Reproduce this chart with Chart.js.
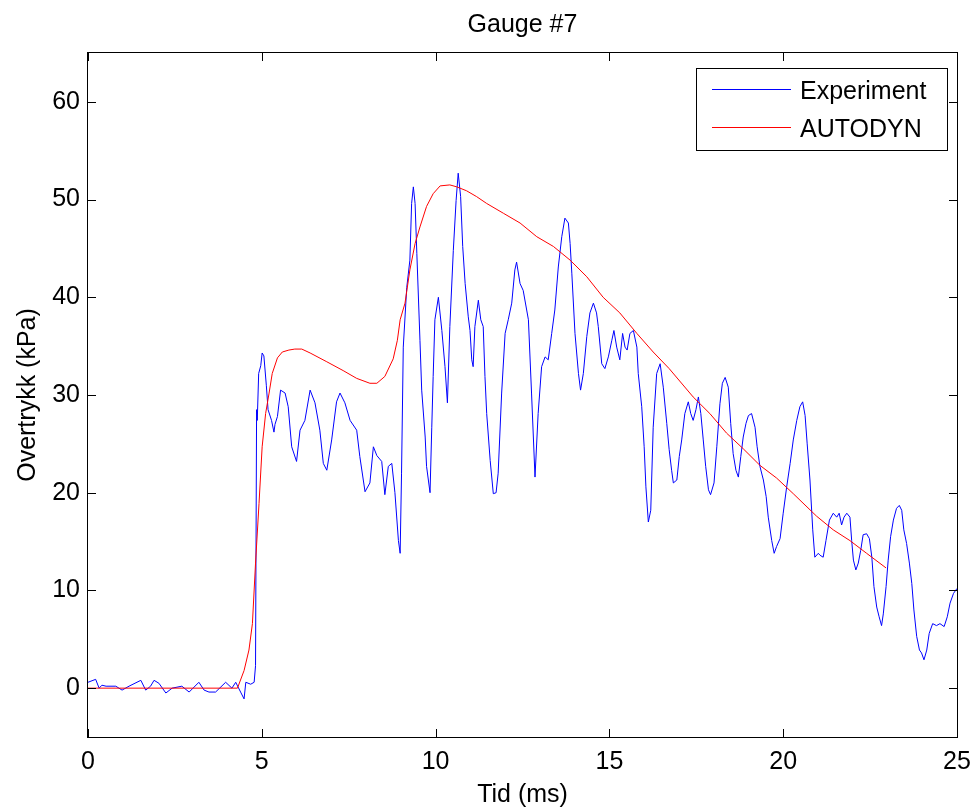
<!DOCTYPE html>
<html>
<head>
<meta charset="utf-8">
<title>Gauge #7</title>
<script src="https://cdn.jsdelivr.net/npm/chart.js@4.4.1/dist/chart.umd.min.js"></script>
<style>
  html, body { margin: 0; padding: 0; background: #fff; }
  canvas { display: block; }
</style>
</head>
<body>
<canvas id="gaugeChart" width="973" height="811"></canvas>
<script>
// Gauge #7 - measured overpressure vs AUTODYN simulation

const expTime = [
  0, 0.22, 0.32, 0.40, 0.52, 0.80, 0.98, 1.18, 1.52, 1.66, 1.80, 1.90, 2.04, 2.24, 2.42, 2.70,
  2.91, 3.19, 3.34, 3.48, 3.67, 3.96, 4.14, 4.25, 4.39, 4.49, 4.54, 4.68, 4.78, 4.82, 4.85, 4.87,
  4.91, 4.97, 5.01, 5.06, 5.13, 5.18, 5.28, 5.35, 5.38, 5.45, 5.54, 5.67, 5.76, 5.86, 6.00, 6.10,
  6.24, 6.39, 6.53, 6.67, 6.77, 6.87, 7.01, 7.15, 7.25, 7.39, 7.54, 7.73, 7.82, 7.97, 8.11, 8.21,
  8.31, 8.45, 8.54, 8.64, 8.74, 8.83, 8.93, 8.98, 9.02, 9.07, 9.17, 9.26, 9.31, 9.36, 9.41, 9.46,
  9.55, 9.60, 9.70, 9.74, 9.84, 9.89, 9.93, 9.98, 10.08, 10.18, 10.27, 10.34, 10.41, 10.51, 10.59, 10.65,
  10.72, 10.78, 10.85, 10.94, 10.99, 11.04, 11.08, 11.13, 11.23, 11.30, 11.37, 11.42, 11.47, 11.57, 11.66, 11.74,
  11.80, 11.90, 12.00, 12.09, 12.19, 12.28, 12.33, 12.43, 12.52, 12.67, 12.76, 12.86, 12.95, 13.05, 13.15, 13.24,
  13.34, 13.43, 13.53, 13.63, 13.72, 13.82, 13.87, 13.92, 14.01, 14.11, 14.17, 14.25, 14.35, 14.44, 14.54, 14.63,
  14.68, 14.78, 14.87, 14.97, 15.07, 15.13, 15.21, 15.30, 15.38, 15.45, 15.51, 15.59, 15.69, 15.79, 15.83, 15.93,
  16.00, 16.05, 16.12, 16.19, 16.26, 16.36, 16.46, 16.55, 16.65, 16.72, 16.79, 16.84, 16.94, 17.01, 17.08, 17.17,
  17.27, 17.34, 17.41, 17.49, 17.56, 17.63, 17.70, 17.77, 17.85, 17.91, 18.01, 18.09, 18.18, 18.25, 18.33, 18.42,
  18.49, 18.56, 18.64, 18.71, 18.78, 18.85, 18.93, 19.00, 19.09, 19.19, 19.25, 19.33, 19.43, 19.51, 19.57, 19.67,
  19.74, 19.81, 19.91, 20.00, 20.10, 20.20, 20.29, 20.39, 20.48, 20.56, 20.63, 20.69, 20.77, 20.85, 20.91, 21.01,
  21.06, 21.15, 21.23, 21.33, 21.44, 21.54, 21.61, 21.68, 21.75, 21.83, 21.92, 21.97, 22.02, 22.09, 22.16, 22.23,
  22.30, 22.40, 22.48, 22.55, 22.61, 22.69, 22.76, 22.83, 22.88, 22.96, 23.02, 23.09, 23.17, 23.26, 23.34, 23.41,
  23.47, 23.55, 23.63, 23.70, 23.76, 23.84, 23.92, 23.98, 24.05, 24.13, 24.20, 24.30, 24.41, 24.51, 24.63, 24.72,
  24.80, 24.90, 25.00
];
const expPressure = [
  0.6, 0.9, 0.0, 0.3, 0.2, 0.2, -0.2, 0.2, 0.8, -0.2, 0.2, 0.8, 0.5, -0.5, 0.0, 0.2,
  -0.4, 0.6, -0.2, -0.4, -0.4, 0.6, 0.0, 0.6, -0.4, -1.1, 0.6, 0.4, 0.6, 2.3, 28.5, 27.4,
  32.2, 33.0, 34.3, 34.0, 31.0, 28.5, 27.4, 26.2, 27.0, 27.8, 30.5, 30.2, 28.8, 24.7, 23.2, 26.4,
  27.4, 30.5, 29.2, 26.4, 23.0, 22.3, 25.4, 29.3, 30.2, 29.2, 27.4, 26.4, 23.7, 20.1, 21.0, 24.7,
  23.8, 23.2, 19.8, 22.7, 23.0, 20.0, 15.1, 13.8, 22.0, 34.9, 41.0, 43.8, 49.6, 51.3, 49.6, 44.5,
  35.6, 30.5, 25.7, 22.7, 20.0, 26.7, 31.9, 37.7, 40.0, 36.6, 32.9, 29.2, 37.0, 44.8, 49.9, 52.7,
  50.3, 45.2, 41.4, 38.0, 36.6, 33.6, 32.9, 37.0, 39.7, 37.7, 37.0, 31.9, 28.1, 23.3, 19.9, 20.0,
  22.0, 30.2, 36.3, 37.7, 39.4, 42.8, 43.6, 41.4, 40.7, 37.7, 30.2, 21.6, 28.1, 32.9, 33.9, 33.6,
  36.3, 38.7, 43.1, 46.2, 48.1, 47.6, 45.5, 42.4, 36.3, 32.2, 30.5, 32.2, 36.0, 38.4, 39.4, 38.4,
  37.0, 33.2, 32.7, 33.9, 35.6, 36.6, 34.9, 33.6, 36.3, 34.9, 34.6, 36.3, 36.6, 34.9, 32.2, 28.8,
  24.7, 20.6, 17.0, 18.2, 26.7, 32.2, 33.2, 30.8, 27.1, 24.4, 22.3, 21.0, 21.3, 23.7, 25.4, 28.1,
  29.3, 28.1, 27.4, 28.5, 29.8, 28.1, 25.4, 22.7, 20.3, 19.8, 21.0, 24.7, 29.1, 31.2, 31.8, 30.8,
  27.1, 24.0, 22.3, 21.6, 23.7, 25.7, 27.1, 27.9, 28.1, 26.7, 24.7, 22.7, 21.3, 19.6, 17.5, 15.1,
  13.8, 14.5, 15.3, 17.9, 20.6, 23.0, 25.4, 27.4, 28.8, 29.3, 27.9, 25.0, 21.3, 16.2, 13.4, 13.8,
  13.6, 13.4, 15.1, 17.2, 17.9, 17.5, 17.9, 16.7, 17.5, 17.9, 17.5, 15.1, 13.1, 12.1, 12.8, 14.1,
  15.7, 15.8, 15.3, 13.4, 10.4, 8.3, 7.3, 6.4, 7.6, 10.4, 13.1, 15.5, 17.2, 18.4, 18.7, 18.2,
  16.2, 14.8, 12.8, 10.7, 8.0, 5.3, 3.9, 3.6, 2.9, 3.9, 5.6, 6.6, 6.4, 6.6, 6.3, 7.3,
  8.7, 9.7, 10.2
];

const simTime = [
  0, 4.30, 4.49, 4.63, 4.73, 4.82, 4.92, 5.01, 5.11, 5.21, 5.30, 5.45, 5.59, 5.78, 5.95, 6.15,
  6.39, 6.87, 7.34, 7.73, 8.11, 8.31, 8.54, 8.78, 8.90, 8.98, 9.12, 9.26, 9.41, 9.55, 9.74, 9.93,
  10.13, 10.41, 10.61, 10.89, 11.18, 11.47, 11.95, 12.43, 12.91, 13.39, 13.87, 14.35, 14.82, 15.30, 15.79, 16.26,
  16.72, 17.41, 17.89, 18.37, 18.85, 19.33, 19.81, 20.29, 20.96, 21.44, 21.92, 22.40, 22.96
];
const simPressure = [
  0, 0, 1.8, 3.9, 6.6, 12.8, 18.9, 24.7, 28.1, 30.2, 32.2, 33.8, 34.4, 34.6, 34.7, 34.7,
  34.3, 33.4, 32.5, 31.7, 31.2, 31.2, 31.9, 33.7, 35.6, 37.7, 39.4, 42.8, 45.5, 47.2, 49.3, 50.6,
  51.4, 51.5, 51.3, 50.9, 50.3, 49.6, 48.6, 47.6, 46.2, 45.2, 43.8, 42.1, 40.0, 38.4, 36.3, 34.4,
  32.7, 29.8, 28.1, 26.1, 24.5, 22.8, 21.5, 19.9, 17.6, 16.2, 15.1, 13.8, 12.3
];

const seriesNames = ["Experiment", "AUTODYN"];
const seriesColors = ["#0000ff", "#ff0000"];
const xTickValues = [0, 5, 10, 15, 20, 25];
const yTickValues = [0, 10, 20, 30, 40, 50, 60];

const FONT = "'Liberation Sans', Arial, Helvetica, sans-serif";
const FONT_SIZE = 25;

Chart.defaults.font.family = FONT;
Chart.defaults.font.size = FONT_SIZE;
Chart.defaults.color = "#000";

function toPoints(xs, ys) {
  return xs.map((x, i) => ({ x, y: ys[i] }));
}

// box, inward ticks, title and legend the way MATLAB draws them
const matlabFrame = {
  id: "matlabFrame",
  afterDraw(chart) {
    const { ctx, chartArea: a, scales } = chart;
    const tick = 8;
    ctx.save();
    ctx.strokeStyle = "#000";
    ctx.lineWidth = 1;
    ctx.strokeRect(Math.round(a.left) - 0.5, Math.round(a.top) - 0.5,
      Math.round(a.right - a.left) + 1, Math.round(a.bottom - a.top) + 1);

    ctx.beginPath();
    xTickValues.forEach(v => {
      const px = Math.round(scales.x.getPixelForValue(v)) + 0.5;
      ctx.moveTo(px, a.bottom); ctx.lineTo(px, a.bottom - tick);
      ctx.moveTo(px, a.top); ctx.lineTo(px, a.top + tick);
    });
    yTickValues.forEach(v => {
      const py = Math.round(scales.y.getPixelForValue(v)) + 0.5;
      ctx.moveTo(a.left, py); ctx.lineTo(a.left + tick, py);
      ctx.moveTo(a.right, py); ctx.lineTo(a.right - tick, py);
    });
    ctx.stroke();

    // title centred over the axes
    ctx.fillStyle = "#000";
    ctx.font = FONT_SIZE + "px " + FONT;
    ctx.textAlign = "center";
    ctx.textBaseline = "middle";
    ctx.fillText("Gauge #7", (a.left + a.right) / 2, 25);

    // legend box, top right inside the axes
    const bx = a.right - 261, by = a.top + 15, bw = 251, bh = 82;
    ctx.fillStyle = "#fff";
    ctx.fillRect(bx, by, bw, bh);
    ctx.strokeRect(bx + 0.5, by + 0.5, bw, bh);
    ctx.textAlign = "left";
    chart.data.datasets.forEach((ds, i) => {
      const ly = by + 21 + i * 38 + 0.5;
      ctx.strokeStyle = ds.borderColor;
      ctx.beginPath();
      ctx.moveTo(bx + 16, ly);
      ctx.lineTo(bx + 95, ly);
      ctx.stroke();
      ctx.fillStyle = "#000";
      ctx.fillText(ds.label, bx + 104, ly + 3);
    });
    ctx.restore();
  }
};

const ctx = document.getElementById("gaugeChart").getContext("2d");

new Chart(ctx, {
  type: "scatter",
  data: {
    datasets: [
      {
        label: seriesNames[0],
        data: toPoints(expTime, expPressure),
        borderColor: seriesColors[0],
        backgroundColor: seriesColors[0],
        showLine: true,
        borderWidth: 1,
        pointRadius: 0,
        tension: 0,
        order: 2
      },
      {
        label: seriesNames[1],
        data: toPoints(simTime, simPressure),
        borderColor: seriesColors[1],
        backgroundColor: seriesColors[1],
        showLine: true,
        borderWidth: 1,
        pointRadius: 0,
        tension: 0,
        order: 1
      }
    ]
  },
  options: {
    responsive: false,
    animation: false,
    layout: { padding: { top: 53, right: 16, left: 0, bottom: 0 } },
    scales: {
      x: {
        type: "linear",
        min: 0,
        max: 25,
        afterBuildTicks: scale => { scale.ticks = xTickValues.map(value => ({ value })); },
        afterFit: scale => {
          scale.height = 74;
          scale.paddingLeft = 0;
          scale.paddingRight = 0;
        },
        grid: { display: false, drawTicks: false },
        border: { display: false },
        ticks: { padding: 10, maxRotation: 0 },
        title: { display: true, text: "Tid (ms)", padding: { top: 0, bottom: 1 } }
      },
      y: {
        type: "linear",
        min: -5,
        max: 65,
        afterBuildTicks: scale => { scale.ticks = yTickValues.map(value => ({ value })); },
        afterFit: scale => {
          scale.width = 88;
          scale.paddingTop = 0;
          scale.paddingBottom = 0;
        },
        grid: { display: false, drawTicks: false },
        border: { display: false },
        ticks: { padding: 8 },
        title: { display: true, text: "Overtrykk (kPa)", padding: { top: 13, bottom: 0 } }
      }
    },
    plugins: {
      legend: { display: false },
      title: { display: false },
      tooltip: { enabled: false }
    }
  },
  plugins: [matlabFrame]
});
</script>
</body>
</html>
